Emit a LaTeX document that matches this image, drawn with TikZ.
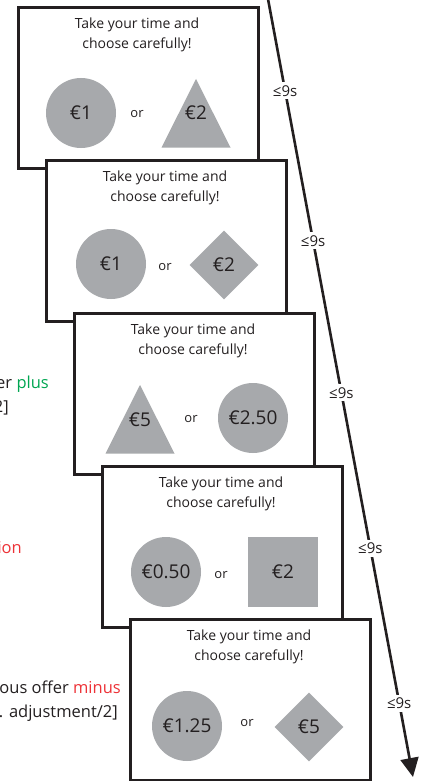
\documentclass[tikz,border=0pt]{standalone}
\usepackage{fontspec}
\setmainfont{Open Sans}
\usetikzlibrary{shapes.geometric,arrows.meta}
\definecolor{shapegray}{RGB}{167,169,172}
\definecolor{inkgray}{RGB}{35,31,32}
\definecolor{plusgreen}{RGB}{0,166,81}
\definecolor{minusred}{RGB}{237,50,55}

\begin{document}
\begin{tikzpicture}[x=1pt,y=1pt,
    screen/.style={draw=inkgray,line width=2.6pt,fill=white,minimum width=240pt,
      minimum height=161pt,inner sep=0pt,anchor=north west},
    headline/.style={align=center,text=inkgray,font=\fontsize{14}{20}\selectfont},
    amount/.style={inner sep=0pt,text=inkgray,font=\fontsize{19}{20}\selectfont},
    coin/.style={amount,circle,fill=shapegray,minimum size=70pt},
    gem/.style={amount,diamond,fill=shapegray,minimum size=69pt},
    tile/.style={amount,rectangle,fill=shapegray,minimum size=70pt},
    orword/.style={text=inkgray,font=\fontsize{13}{16}\selectfont},
    delay/.style={fill=white,inner sep=3pt,text=inkgray,font=\fontsize{15}{16}\selectfont},
    note/.style={anchor=base east,inner sep=0pt,text=inkgray,font=\fontsize{16.5}{20}\selectfont}]
  \useasboundingbox (0,0) rectangle (428,-781);
  \def\cone#1{(#1-34.5,-141.5) -- (#1,-73) -- (#1+34.5,-141.5) -- cycle}

  % cut-off notes on the left
  \node[note] (plusnote) at (49,-388) {er \textcolor{plusgreen}{plus}};
  \node[note] (plusend) at (9,-412) {2]};
  \node[note] (rednote) at (22,-553) {\textcolor{minusred}{ion}};
  \node[note] (minusnote) at (121,-693) {ous offer \textcolor{minusred}{minus}};
  \node[note] (minusend) at (118,-717) {. adjustment/2]};

  % timeline
  \coordinate (t0) at (268,1);
  \coordinate (t1) at (413,-777);
  \draw[line width=2.6pt,draw=inkgray,-{Triangle[length=19pt,width=18pt]}] (t0) --
    node[delay,pos=.118] (d1) {≤9s}
    node[delay,pos=.311] (d2) {≤9s}
    node[delay,pos=.506] (d3) {≤9s}
    node[delay,pos=.706] (d4) {≤9s}
    node[delay,pos=.905] (d5) {≤9s} (t1);

  % screen 1
  \begin{scope}[shift={(17,-6)}]
    \node[screen] (s1) at (0,0) {};
    \node[headline] (h1) at (120,-29) {Take your time and\\choose carefully!};
    \node[coin] (l1) at (64,-107) {€1};
    \node[orword] (o1) at (120,-108) {or};
    \fill[shapegray] \cone{179};
    \node[amount] (r1) at (179,-107) {€2};
  \end{scope}

  % screen 2
  \begin{scope}[shift={(45,-159)}]
    \node[screen] (s2) at (0,0) {};
    \node[headline] (h2) at (120,-29) {Take your time and\\choose carefully!};
    \node[coin] (l2) at (66,-105) {€1};
    \node[orword] (o2) at (120,-108) {or};
    \node[gem] (r2) at (179,-106) {€2};
  \end{scope}

  % screen 3
  \begin{scope}[shift={(73,-312)}]
    \node[screen] (s3) at (0,0) {};
    \node[headline] (h3) at (120,-29) {Take your time and\\choose carefully!};
    \fill[shapegray] \cone{67};
    \node[amount] (l3) at (67,-108) {€5};
    \node[orword] (o3) at (118,-107) {or};
    \node[coin] (r3) at (180,-106) {€2.50};
  \end{scope}

  % screen 4
  \begin{scope}[shift={(101,-465)}]
    \node[screen] (s4) at (0,0) {};
    \node[headline] (h4) at (120,-29) {Take your time and\\choose carefully!};
    \node[coin] (l4) at (65,-107) {€0.50};
    \node[orword] (o4) at (120,-110) {or};
    \node[tile] (r4) at (182,-107) {€2};
  \end{scope}

  % screen 5
  \begin{scope}[shift={(129,-618)}]
    \node[screen] (s5) at (0,0) {};
    \node[headline] (h5) at (120,-29) {Take your time and\\choose carefully!};
    \node[coin] (l5) at (58,-108) {€1.25};
    \node[orword] (o5) at (118,-105) {or};
    \node[gem] (r5) at (180,-109) {€5};
  \end{scope}
\end{tikzpicture}
\end{document}
